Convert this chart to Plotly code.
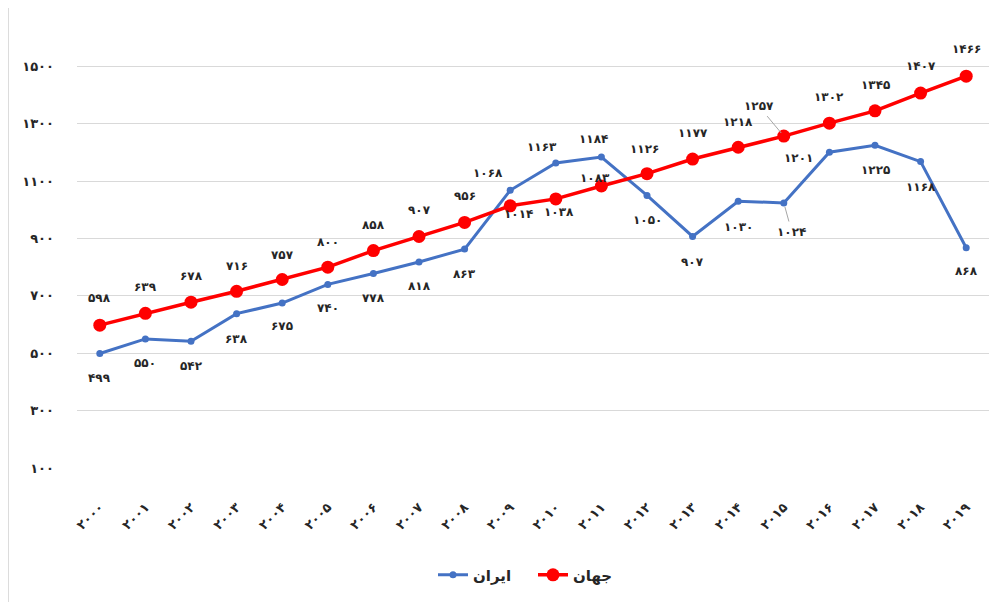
import plotly.graph_objects as go

years = list(range(2000, 2020))
iran = [499, 550, 542, 638, 675, 740, 778, 818, 863, 1068,
        1163, 1184, 1050, 907, 1030, 1024, 1201, 1225, 1168, 868]
world = [598, 639, 678, 716, 757, 800, 858, 907, 956, 1014,
         1038, 1083, 1126, 1177, 1218, 1257, 1302, 1345, 1407, 1466]
y_ticks = [100, 300, 500, 700, 900, 1100, 1300, 1500]
name_iran = "ایران"
name_world = "جهان"

# label offsets (pixels, screen coords: dx right, dy down) - styling only
world_off = [(0, -27), (0, -26), (0, -26), (0, -25), (0, -25), (0, -25), (0, -26), (0, -26),
             (0, -26), (8, 8), (3, 13), (-6, -8), (-3, -25), (0, -26), (0, -25), (-25, -30),
             (0, -26), (0, -26), (0, -27), (0, -27)]
world_leader = [False] * 15 + [True] + [False] * 4
iran_off = [(0, 24), (0, 24), (0, 25), (0, 25), (0, 23), (0, 24), (0, 24), (0, 24),
            (0, 25), (-22, -17), (-14, -16), (-8, -18), (0, 25), (0, 26), (0, 26), (8, 29),
            (-31, 6), (0, 25), (0, 25), (0, 23)]
iran_leader = [False] * 15 + [True] + [False] * 4

FA = str.maketrans("0123456789", "۰۱۲۳۴۵۶۷۸۹")


def fa(n):
    return str(n).translate(FA)


FONT = "DejaVu Sans"
BLUE = "#4472C4"
RED = "#FF0000"

fig = go.Figure()
fig.add_trace(go.Scatter(
    x=years, y=iran, name="<b>" + name_iran + "</b>", mode="lines+markers",
    line=dict(color=BLUE, width=3), marker=dict(color=BLUE, size=7),
))
fig.add_trace(go.Scatter(
    x=years, y=world, name="<b>" + name_world + "</b>", mode="lines+markers",
    line=dict(color=RED, width=3.5), marker=dict(color=RED, size=13),
))

annotations = []
for vals, offs, leads in ((world, world_off, world_leader), (iran, iran_off, iran_leader)):
    for x, v, (dx, dy), lead in zip(years, vals, offs, leads):
        if lead:
            annotations.append(dict(
                x=x, y=v, xref="x", yref="y", text="<b>" + fa(v) + "</b>",
                showarrow=True, ax=dx, ay=dy, arrowhead=0, arrowwidth=1,
                arrowcolor="#A6A6A6", standoff=4, startstandoff=2,
                font=dict(family=FONT, size=12, color="#262626"),
            ))
        else:
            annotations.append(dict(
                x=x, y=v, xref="x", yref="y", text="<b>" + fa(v) + "</b>",
                showarrow=False, xshift=dx, yshift=-dy,
                font=dict(family=FONT, size=12, color="#262626"),
            ))

fig.update_layout(
    width=1003, height=602,
    margin=dict(l=69, r=22, t=1, b=142),
    paper_bgcolor="white", plot_bgcolor="white",
    font=dict(family=FONT, size=12, color="#262626"),
    showlegend=True,
    legend=dict(orientation="h", x=0.5, xanchor="center", yref="container",
                y=0.058, yanchor="middle", entrywidth=55,
                font=dict(family=FONT, size=15, color="#262626")),
    annotations=annotations,
    shapes=[dict(type="line", xref="paper", yref="paper",
                 x0=-0.0752, x1=-0.0752, y0=-0.4, y1=1.02,
                 line=dict(color="#D9D9D9", width=1))],
)
fig.update_xaxes(
    range=[1999.5, 2019.5], tickvals=years,
    ticktext=["<b>" + fa(y) + "</b>" for y in years],
    tickangle=-45, showgrid=False, showline=False, zeroline=False,
    ticklabelstandoff=28, tickfont=dict(family=FONT, size=13, color="#262626"),
)
fig.update_yaxes(
    range=[100, 1700], tickvals=y_ticks,
    ticktext=["<b>" + fa(v) + "</b>" for v in y_ticks],
    showgrid=True, gridcolor="#D9D9D9", gridwidth=1, zeroline=False, showline=False,
    ticklabelstandoff=22, tickfont=dict(family=FONT, size=13, color="#262626"),
)

fig.write_html("out.html")
